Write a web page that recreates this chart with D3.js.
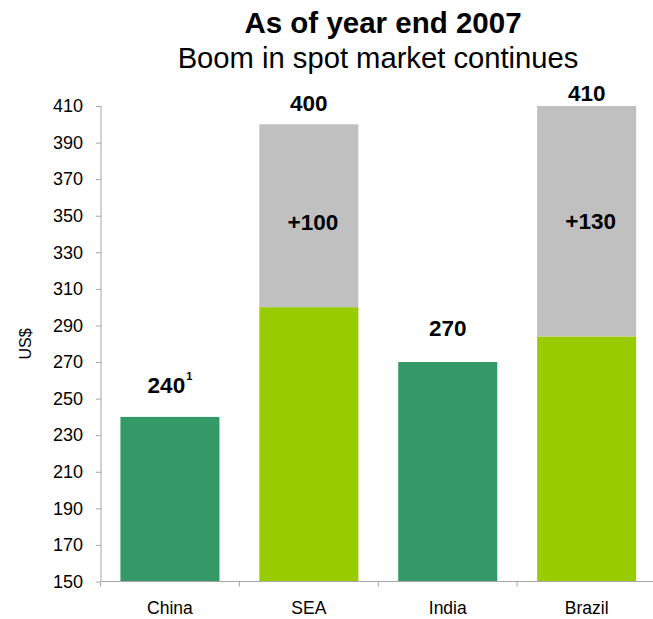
<!DOCTYPE html>
<html>
<head>
<meta charset="utf-8">
<script src="https://cdn.jsdelivr.net/npm/d3@7"></script>
<style>
  html, body { margin: 0; padding: 0; background: #fff; }
  svg { display: block; font-family: "Liberation Sans", Arial, Helvetica, sans-serif; }
</style>
</head>
<body>
<svg id="chart" width="653" height="619"></svg>
<script>
// ---- data ----
const categories = ["China", "SEA", "India", "Brazil"];
const baseValues = [240, 300, 270, 284];        // green part
const increaseValues = [0, 100, 0, 126];        // grey part on top
const totalLabels = ["240", "400", "270", "410"];
const footnoteMarks = ["1", "", "", ""];
const increaseLabels = ["", "+100", "", "+130"];
const yTicks = [150, 170, 190, 210, 230, 250, 270, 290, 310, 330, 350, 370, 390, 410];
const titleText = "As of year end 2007";
const subtitleText = "Boom in spot market continues";
const yAxisTitle = "US$";

// ---- layout / style ----
const baseColors = ["#339966", "#99CC00", "#339966", "#99CC00"];
const greyColor = "#C0C0C0";
const axisColor = "#A6A6A6";
const totalLabelGap = [24, 13.5, 26.5, 5];   // px above bar top
const increaseLabelDy = [0, 6, 0, 0];

const svg = d3.select("#chart");

const x = d3.scaleBand()
  .domain(categories)
  .range([100.5, 100.5 + 4 * 138.9])
  .paddingInner(0.287)
  .paddingOuter(0.1435);

const y = d3.scaleLinear().domain([150, 410]).range([581.5, 106]);

const data = categories.map((c, i) => ({
  cat: c, base: baseValues[i], inc: increaseValues[i], total: baseValues[i] + increaseValues[i],
  color: baseColors[i], label: totalLabels[i], sup: footnoteMarks[i], incLabel: increaseLabels[i], i
}));

// bars: base
svg.append("g").selectAll("rect.base").data(data).join("rect")
  .attr("class", "base")
  .attr("x", d => x(d.cat))
  .attr("width", x.bandwidth())
  .attr("y", d => y(d.base))
  .attr("height", d => y(150) - y(d.base))
  .attr("fill", d => d.color);

// bars: increase
svg.append("g").selectAll("rect.inc").data(data.filter(d => d.inc > 0)).join("rect")
  .attr("class", "inc")
  .attr("x", d => x(d.cat))
  .attr("width", x.bandwidth())
  .attr("y", d => y(d.total))
  .attr("height", d => y(d.base) - y(d.total))
  .attr("fill", greyColor);

// y axis
const yAxis = d3.axisLeft(y).tickValues(yTicks).tickSize(5).tickPadding(13).tickFormat(d3.format("d"));
const gy = svg.append("g").attr("transform", "translate(101,0)").call(yAxis);
gy.select(".domain").attr("stroke", axisColor).attr("d", `M0,${y(410)}V${y(150)}`);
gy.selectAll(".tick line").attr("stroke", axisColor);
gy.selectAll(".tick text").attr("font-size", 18).attr("fill", "#000")
  .attr("font-family", "'Liberation Sans', Arial, sans-serif");

// x axis
const step = x.step();
const bounds = d3.range(categories.length + 1).map(i => x.range()[0] + i * step);
const gx = svg.append("g");
gx.append("line")
  .attr("x1", 101).attr("x2", x.range()[1])
  .attr("y1", y(150)).attr("y2", y(150))
  .attr("stroke", axisColor);
gx.selectAll("line.xt").data(bounds).join("line")
  .attr("class", "xt")
  .attr("x1", d => d).attr("x2", d => d)
  .attr("y1", y(150)).attr("y2", y(150) + 5)
  .attr("stroke", axisColor);
gx.selectAll("text").data(categories).join("text")
  .attr("x", d => x(d) + x.bandwidth() / 2)
  .attr("y", 614)
  .attr("text-anchor", "middle")
  .attr("font-size", 17.5)
  .text(d => d);

// total labels
const tl = svg.append("g").selectAll("text").data(data).join("text")
  .attr("x", d => x(d.cat) + x.bandwidth() / 2)
  .attr("y", d => y(d.total) - totalLabelGap[d.i])
  .attr("text-anchor", "middle")
  .attr("font-size", 22.5)
  .attr("font-weight", "bold");
tl.append("tspan").text(d => d.label);
tl.filter(d => d.sup).append("tspan")
  .attr("font-size", 11).attr("dy", -13).attr("dx", 1)
  .text(d => d.sup);

// increase labels
svg.append("g").selectAll("text").data(data.filter(d => d.incLabel)).join("text")
  .attr("x", d => x(d.cat) + x.bandwidth() / 2 + 4)
  .attr("y", d => (y(d.total) + y(d.base)) / 2 + 8 + increaseLabelDy[d.i])
  .attr("text-anchor", "middle")
  .attr("font-size", 22.5)
  .attr("font-weight", "bold")
  .text(d => d.incLabel);

// y axis title
svg.append("text")
  .attr("transform", "translate(31,344) rotate(-90)")
  .attr("text-anchor", "middle")
  .attr("font-size", 16)
  .text(yAxisTitle);

// titles
svg.append("text")
  .attr("x", 383).attr("y", 33)
  .attr("text-anchor", "middle")
  .attr("font-size", 29.5).attr("font-weight", "bold")
  .text(titleText);
svg.append("text")
  .attr("x", 378).attr("y", 68)
  .attr("text-anchor", "middle")
  .attr("font-size", 29.2)
  .text(subtitleText);
</script>
</body>
</html>
